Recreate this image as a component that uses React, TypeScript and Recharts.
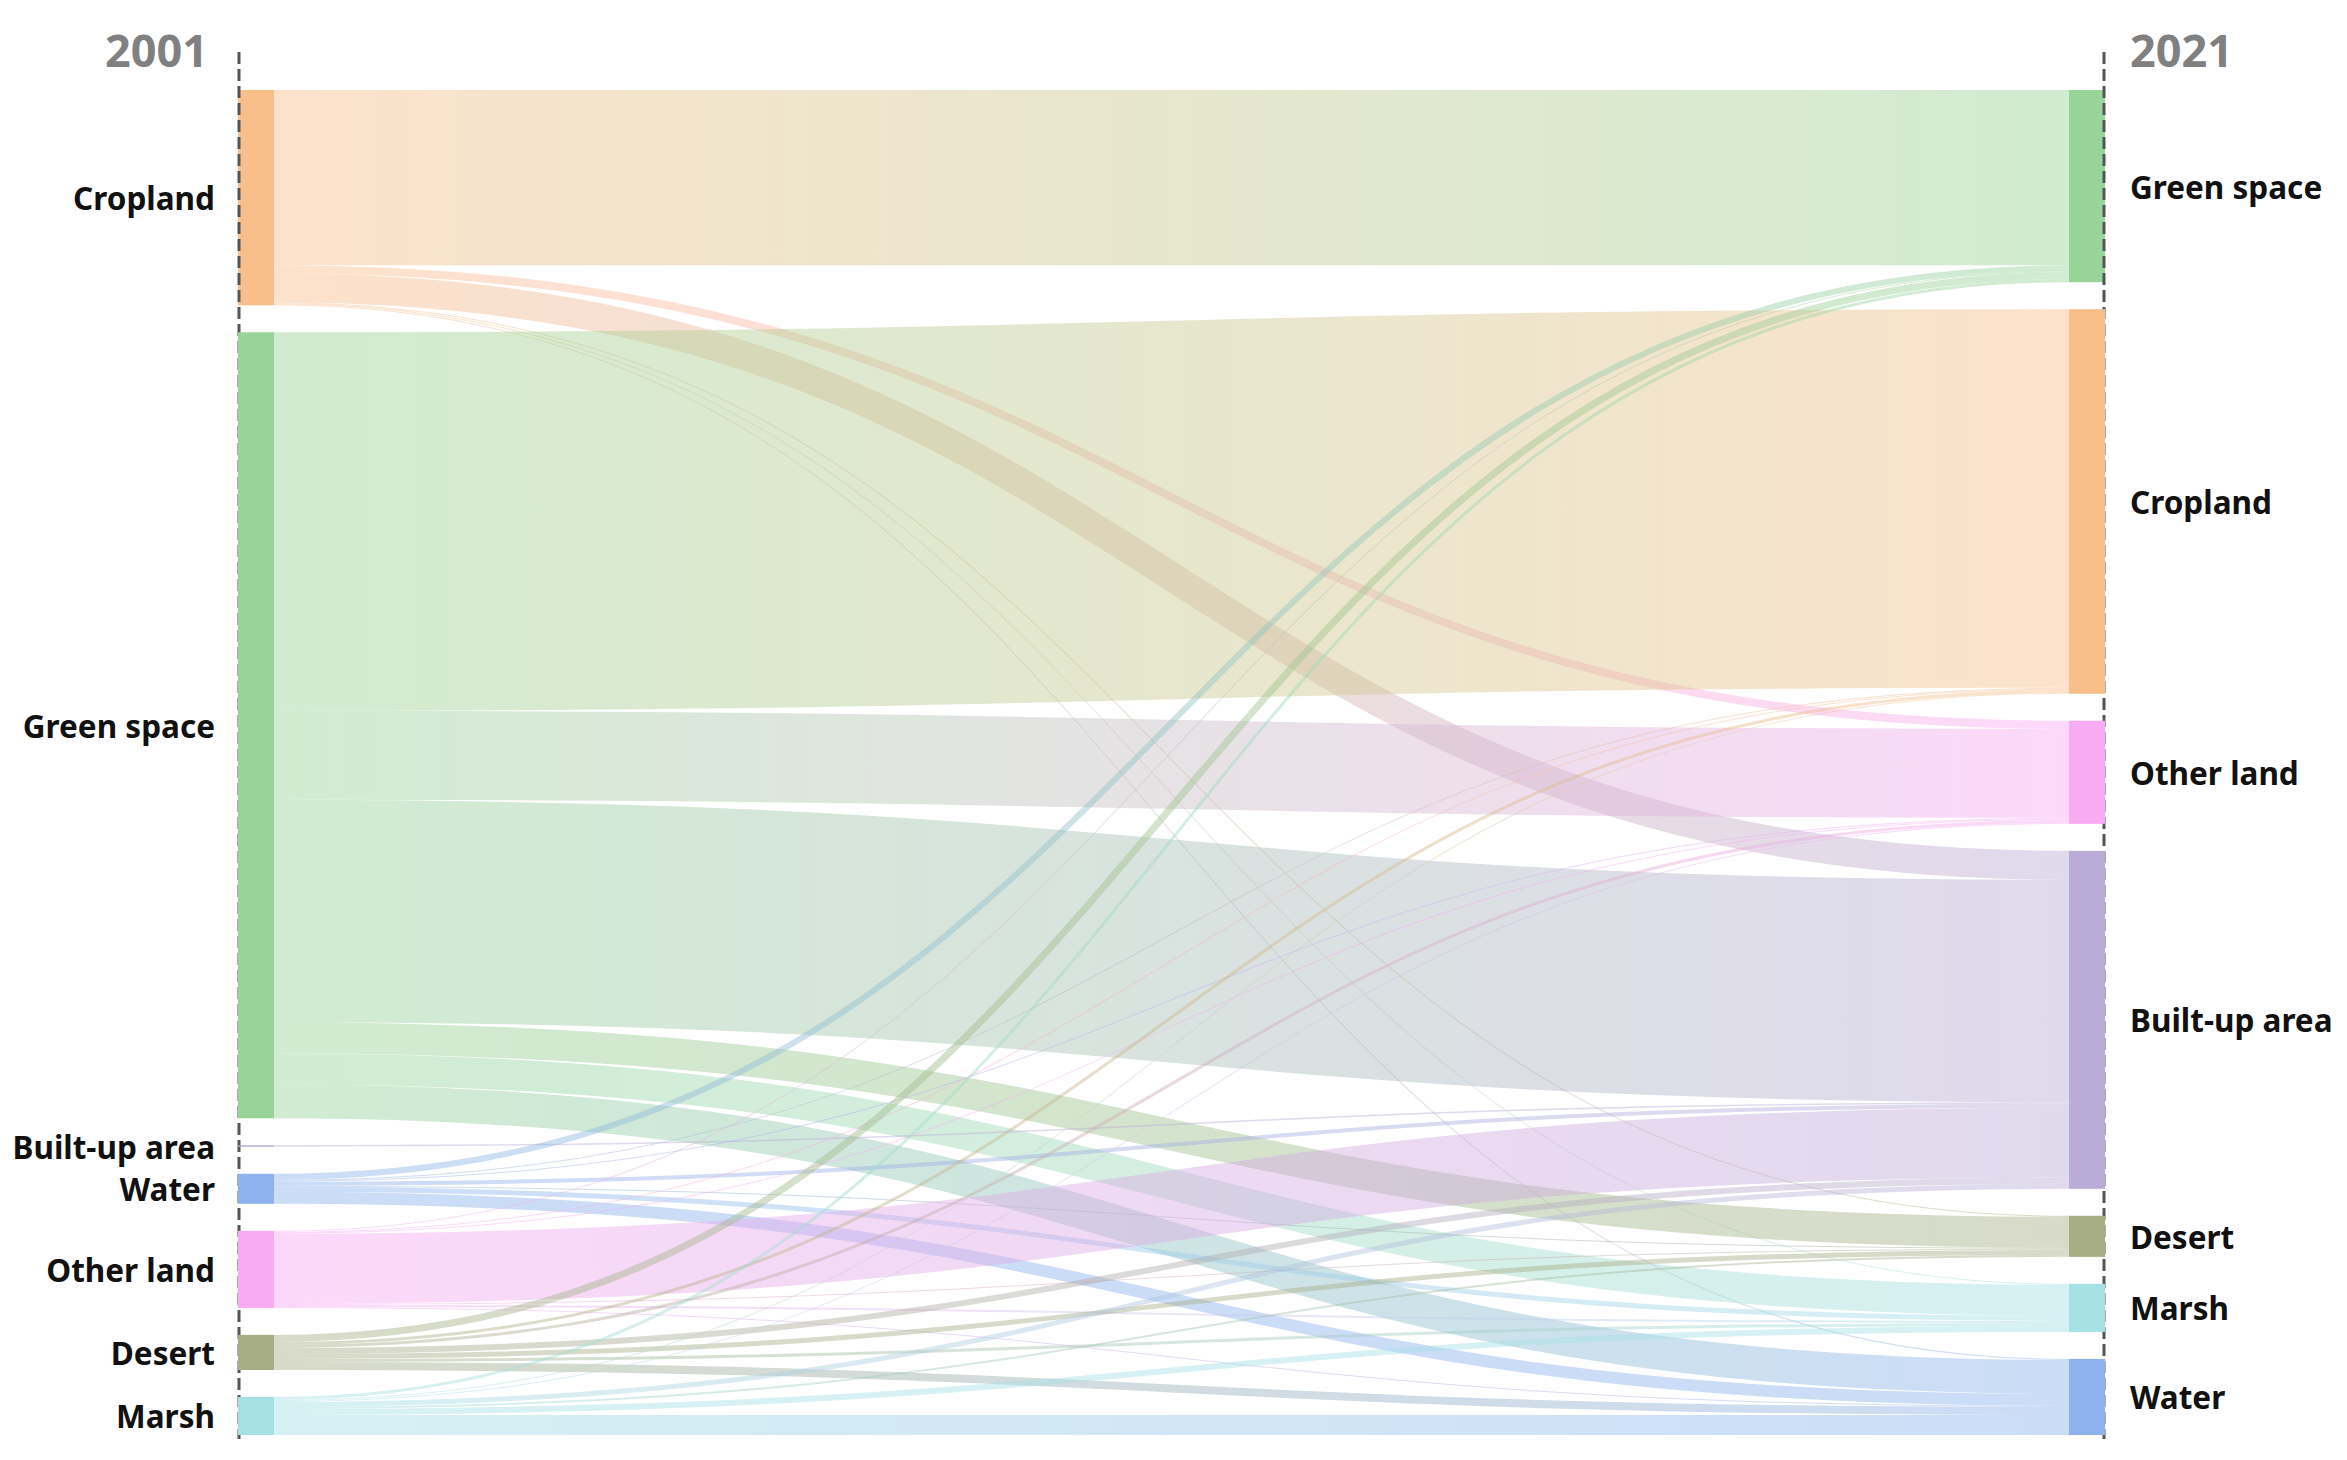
import { Sankey } from 'recharts';

// ── Land-use classes, in the order they are stacked in each column ──
const classes2001 = ['Cropland', 'Green space', 'Built-up area', 'Water', 'Other land', 'Desert', 'Marsh'];
const classes2021 = ['Green space', 'Cropland', 'Other land', 'Built-up area', 'Desert', 'Marsh', 'Water'];

// flows out of each 2001 class, to the 2021 classes in classes2021 order
const fromCropland = [175, 0, 8, 29, 1, 1, 1];
const fromGreenSpace = [0, 378, 89, 222, 31, 31, 34];
const fromBuiltUp = [0, 0, 0, 1.5, 0, 0, 0];
const fromWater = [6, 1, 1, 4, 1, 5, 12];
const fromOtherLand = [1, 1, 1, 70, 1, 2, 1];
const fromDesert = [7, 3, 3, 6, 5, 3, 8];
const fromMarsh = [3, 1, 1, 5, 2, 6, 20];

const years = ['2001', '2021'];

const COLORS: Record<string, string> = {
  Cropland: '#f9bf8b',
  'Green space': '#98d498',
  'Built-up area': '#bbacd7',
  Water: '#8db2ee',
  'Other land': '#f8aaf3',
  Desert: '#a7ae86',
  Marsh: '#a5e0e5',
};

const W = 2331;
const H = 1444;
const MARGIN = { top: 82, right: 234, bottom: 17, left: 230 };
const FONT = '"Noto Sans", "Open Sans", sans-serif';

const flowRows = [fromCropland, fromGreenSpace, fromBuiltUp, fromWater, fromOtherLand, fromDesert, fromMarsh];

const nodes = [
  ...classes2001.map((name) => ({ name })),
  ...classes2021.map((name) => ({ name })),
];

const links: { source: number; target: number; value: number }[] = [];
flowRows.forEach((row, i) => {
  row.forEach((v, j) => {
    if (v > 0) links.push({ source: i, target: classes2001.length + j, value: v });
  });
});

function LandNode(props: any) {
  const { x, y, width, height, index, payload } = props;
  const isLeft = index < classes2001.length;
  const isFirst = index === 0 || index === classes2001.length;
  const axisX = isLeft ? x + 1 : x + width - 1;
  const bottom = H - MARGIN.bottom + 4;
  return (
    <g>
      <rect x={x} y={y} width={width} height={Math.max(height, 1)} fill={COLORS[payload.name]} />
      {isFirst && (
        <g>
          <line
            x1={axisX}
            x2={axisX}
            y1={y - 38}
            y2={bottom}
            stroke="#555"
            strokeWidth={3}
            strokeDasharray="12 5"
          />
          <text
            x={isLeft ? x - 30 : x + width + 25}
            y={y - 23}
            textAnchor={isLeft ? 'end' : 'start'}
            fontFamily={FONT}
            fontWeight={700}
            fontSize={45}
            fill="#808080"
          >
            {isLeft ? years[0] : years[1]}
          </text>
        </g>
      )}
      <text
        x={isLeft ? x - 23 : x + width + 25}
        y={y + height / 2}
        textAnchor={isLeft ? 'end' : 'start'}
        dominantBaseline="central"
        fontFamily={FONT}
        fontWeight={700}
        fontSize={31.5}
        fill="#111"
      >
        {payload.name}
      </text>
    </g>
  );
}

function FlowLink(props: any) {
  const { sourceX, sourceY, sourceControlX, targetX, targetY, targetControlX, linkWidth, index, payload } = props;
  const id = `flow-grad-${index}`;
  const from = COLORS[payload.source.name];
  const to = COLORS[payload.target.name];
  return (
    <g>
      <defs>
        <linearGradient id={id} gradientUnits="userSpaceOnUse" x1={sourceX} y1={0} x2={targetX} y2={0}>
          <stop offset="0%" stopColor={from} />
          <stop offset="100%" stopColor={to} />
        </linearGradient>
      </defs>
      <path
        d={`M${sourceX},${sourceY}C${sourceControlX},${sourceY} ${targetControlX},${targetY} ${targetX},${targetY}`}
        fill="none"
        stroke={`url(#${id})`}
        strokeWidth={Math.max(linkWidth, 1)}
        strokeOpacity={0.45}
      />
    </g>
  );
}

export default function App() {
  return (
    <div style={{ width: W, height: H, background: '#fff' }}>
      <Sankey
        width={W}
        height={H}
        data={{ nodes, links }}
        margin={MARGIN}
        nodeWidth={36}
        nodePadding={27}
        iterations={0}
        linkCurvature={0.5}
        node={<LandNode />}
        link={<FlowLink />}
      />
    </div>
  );
}
